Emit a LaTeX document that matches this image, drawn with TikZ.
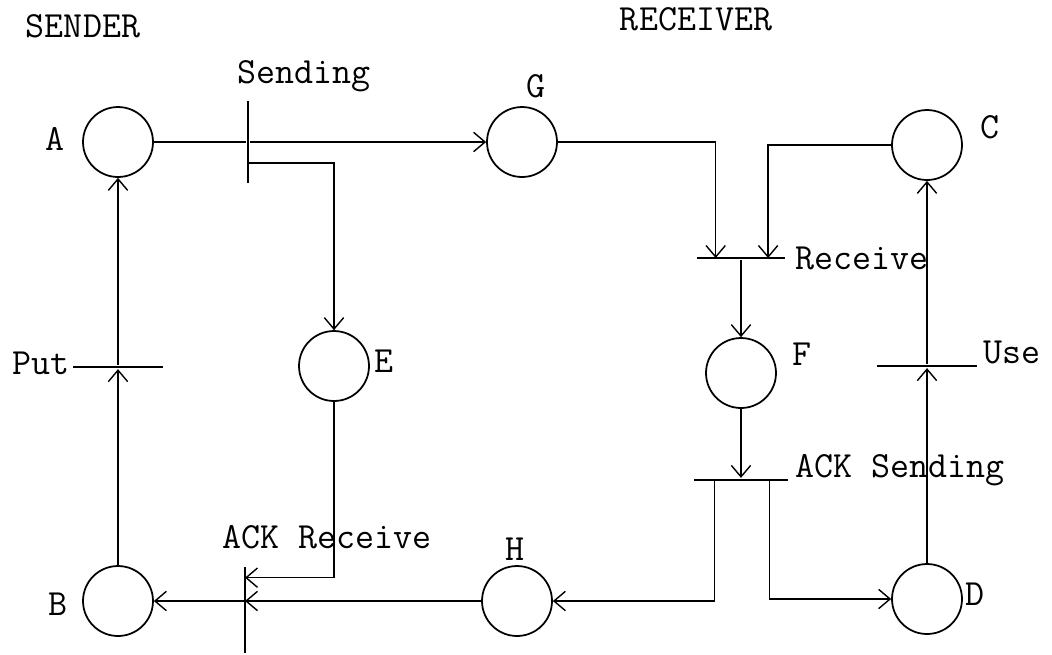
\documentclass[tikz,border=0pt]{standalone}
\usepackage{fontspec}
\usetikzlibrary{arrows.meta,positioning,calc}
\tikzset{
  place/.style={draw,circle,line width=1pt,minimum size=1.4cm,inner sep=0pt},
  bar_h/.style={fill,rectangle,minimum height=1.6pt,inner sep=0pt},
  bar_v/.style={fill,rectangle,minimum width=1.6pt,inner sep=0pt},
  lbl/.style={inner sep=0pt,font=\fontsize{21}{25}\selectfont\ttfamily},
  arr/.style={-{Straight Barb[length=6.5pt,width=11pt]},line width=0.8pt},
}
\begin{document}
\begin{tikzpicture}[x=0.02cm,y=-0.02cm,line width=0.8pt]
  \useasboundingbox (0,0) rectangle (1052,654);

  % places
  \node[place] (A) at (118,142) {};
  \node[place] (B) at (118,601) {};
  \node[place] (E) at (334,366) {};
  \node[place] (G) at (522,142) {};
  \node[place] (H) at (517,601) {};
  \node[place] (F) at (741,373) {};
  \node[place] (C) at (927,145) {};
  \node[place] (D) at (927,599) {};

  % transitions
  \node[bar_v,minimum height=1.64cm] (send) at (248,142) {};
  \node[bar_h,minimum width=1.82cm] (put) at (118,367) {};
  \node[bar_v,minimum height=1.72cm] (ackr) at (245,610) {};
  \node[bar_h,minimum width=1.78cm] (recv) at (741,258) {};
  \node[bar_h,minimum width=1.88cm] (acks) at (741,480) {};
  \node[bar_h,minimum width=2.02cm] (use) at (927,366) {};

  % labels
  \node[lbl,anchor=base] at (83,37) {SENDER};
  \node[lbl,anchor=base] at (696,30) {RECEIVER};
  \node[lbl,anchor=base] at (304,83) {Sending};
  \node[lbl,anchor=base west] at (795,269) {Receive};
  \node[lbl,anchor=base west] at (12,374) {Put};
  \node[lbl,anchor=base west] at (983,363) {Use};
  \node[lbl,anchor=base west] at (795,477) {ACK Sending};
  \node[lbl,anchor=base west] at (222,548) {ACK Receive};
  \node[lbl,anchor=base] at (55,150) {A};
  \node[lbl,anchor=base] at (58,615) {B};
  \node[lbl,anchor=base] at (990,138) {C};
  \node[lbl,anchor=base] at (975,605) {D};
  \node[lbl,anchor=base] at (384,372) {E};
  \node[lbl,anchor=base] at (802,365) {F};
  \node[lbl,anchor=base] at (536,97) {G};
  \node[lbl,anchor=base] at (515,560) {H};

  % sender side
  \draw (A) -- (send);
  \draw[arr] (send) -- (G);
  \draw[arr] ($(send.center)!.5!(send.south)$) -| (E);
  \draw[arr] (B) -- (put);
  \draw[arr] (put) -- (A);
  \draw[arr] (E) |- ($(ackr.north)!.13!(ackr.south)$);
  \draw[arr] (H) -- (H -| ackr);
  \draw[arr] (B -| ackr) -- (B);

  % receiver side
  \draw[arr] (G) -| ($(recv.center)!.56!(recv.west)$);
  \draw[arr] (C) -| ($(recv.center)!.6!(recv.east)$);
  \draw[arr] (recv) -- (F);
  \draw[arr] (F) -- (acks);
  \draw[arr] ($(acks.center)!.55!(acks.west)$) |- (H);
  \draw[arr] ($(acks.center)!.6!(acks.east)$) |- (D);
  \draw[arr] (D) -- (use);
  \draw[arr] (use) -- (C);
\end{tikzpicture}
\end{document}
